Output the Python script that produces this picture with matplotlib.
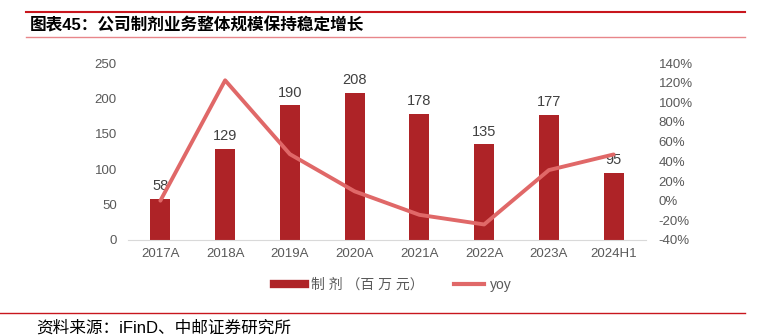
import matplotlib
matplotlib.use("Agg")
import matplotlib.pyplot as plt
import numpy as np
from matplotlib.lines import Line2D

plt.rcParams['font.family'] = ['Liberation Sans', 'Noto Sans CJK SC']

years = ['2017A', '2018A', '2019A', '2020A', '2021A', '2022A', '2023A', '2024H1']
revenue = [58, 129, 190, 208, 178, 135, 177, 95]
yoy = [0.0, 122.4, 47.3, 9.5, -14.4, -24.2, 31.1, 47.0]

bar_color = '#AE2327'
line_color = '#E06868'
tick_color = '#595959'

fig = plt.figure(figsize=(7.66, 3.36), dpi=100)
ax = fig.add_axes([128 / 766, 1 - 240 / 336, 518 / 766, 177 / 336])
ax2 = ax.twinx()

x = np.arange(len(years))
ax.bar(x, revenue, width=0.31, color=bar_color, zorder=2)
for xi, v in zip(x, revenue):
    ax.text(xi, v + 8, str(v), ha='center', va='bottom', fontsize=10.5,
            color='#404040')

ax2.plot(x, yoy, color=line_color, lw=2.8, solid_joinstyle='round',
         solid_capstyle='round', zorder=3)

ax.set_xlim(-0.5, len(years) - 0.5)
ax.set_ylim(0, 250)
ax.set_yticks(np.arange(0, 251, 50))
ax2.set_ylim(-40, 140)
ax2.set_yticks(np.arange(-40, 141, 20))
ax2.set_yticklabels([f'{t}%' for t in range(-40, 141, 20)])
ax.set_xticks(x)
ax.set_xticklabels(years)

for a in (ax, ax2):
    for s in a.spines.values():
        s.set_visible(False)
    a.tick_params(length=0, labelsize=9.5, colors=tick_color)
ax.spines['bottom'].set_visible(True)
ax.spines['bottom'].set_color('#D9D9D9')
ax.tick_params(axis='y', pad=8)
ax.tick_params(axis='x', pad=6)
ax2.tick_params(axis='y', pad=9)

handles = [Line2D([], [], color=bar_color, lw=6),
           Line2D([], [], color=line_color, lw=3)]
fig.legend(handles, ['制 剂 （百 万 元）', 'yoy'], loc='center',
           bbox_to_anchor=(393 / 766, 1 - 285 / 336), ncol=2, frameon=False,
           fontsize=10, handlelength=2.2, handletextpad=0.4,
           columnspacing=2.2, labelcolor=tick_color)

# header and footer rules
fig.add_artist(Line2D([26 / 766, 745 / 766], [1 - 12 / 336] * 2,
                      color='#C8161D', lw=1.5))
fig.add_artist(Line2D([26 / 766, 745 / 766], [1 - 37 / 336] * 2,
                      color='#E8868A', lw=1))
fig.add_artist(Line2D([0, 745 / 766], [1 - 313 / 336] * 2,
                      color='#C8161D', lw=1))
fig.text(30 / 766, 1 - 25 / 336, '图表45：公司制剂业务整体规模保持稳定增长',
         fontsize=12, fontweight='bold', va='center', color='black')
fig.text(36 / 766, 1 - 328 / 336, '资料来源：iFinD、中邮证券研究所',
         fontsize=12, va='center', color='black')

fig.savefig('out.png', dpi=100)
